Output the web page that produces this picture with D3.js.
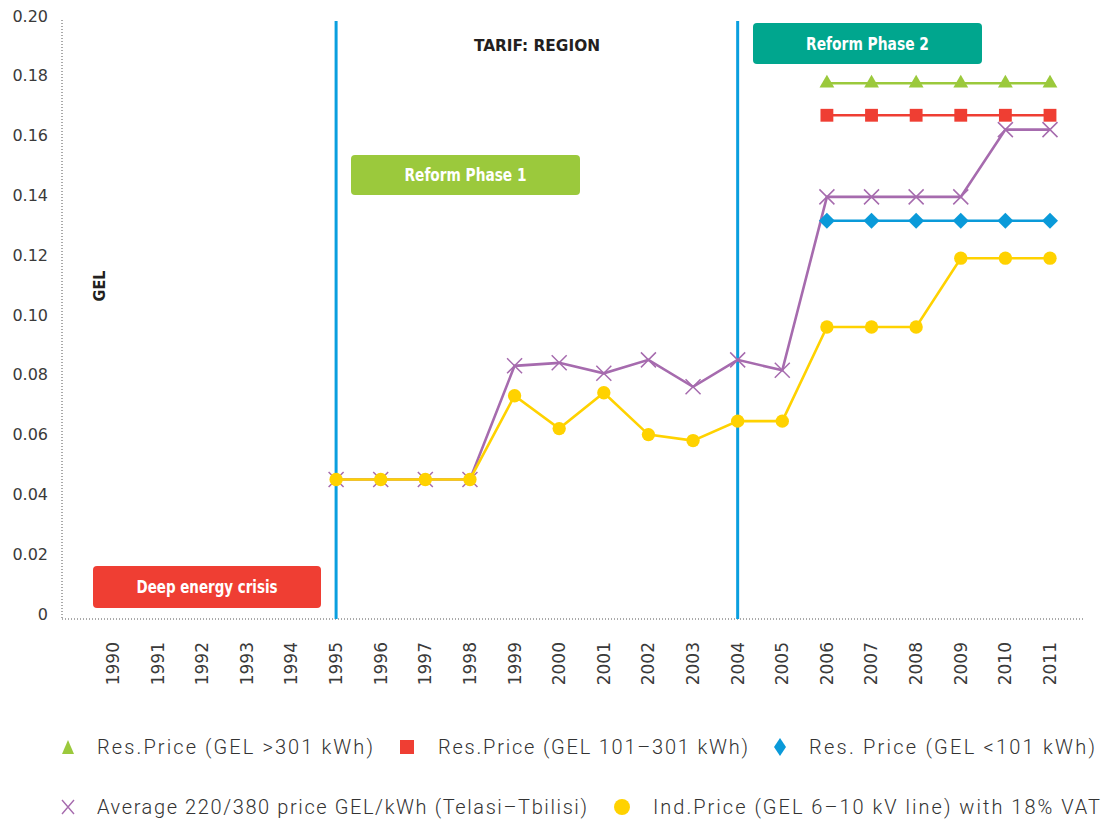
<!DOCTYPE html>
<html>
<head>
<meta charset="utf-8">
<script src="https://cdn.jsdelivr.net/npm/d3@7"></script>
<style>
  body { margin: 0; background: #fff; }
  svg { display: block; }
</style>
</head>
<body>
<svg id="chart" width="1106" height="819"></svg>
<script>
// years on the x axis
const years = d3.range(1990, 2012);
const yTicks = [0, 0.02, 0.04, 0.06, 0.08, 0.10, 0.12, 0.14, 0.16, 0.18, 0.20];

// series
const yearsAvg = [1995, 1996, 1997, 1998, 1999, 2000, 2001, 2002, 2003, 2004, 2005, 2006, 2007, 2008, 2009, 2010, 2011];
const avgPrice = [0.045, 0.045, 0.045, 0.045, 0.083, 0.084, 0.0805, 0.085, 0.076, 0.085, 0.0815, 0.1395, 0.1395, 0.1395, 0.1395, 0.162, 0.162];
const indPrice = [0.045, 0.045, 0.045, 0.045, 0.073, 0.062, 0.074, 0.060, 0.058, 0.0645, 0.0645, 0.096, 0.096, 0.096, 0.119, 0.119, 0.119];
const yearsRes = [2006, 2007, 2008, 2009, 2010, 2011];
const resHigh = [0.1775, 0.1775, 0.1775, 0.1775, 0.1775, 0.1775];
const resMid = [0.1668, 0.1668, 0.1668, 0.1668, 0.1668, 0.1668];
const resLow = [0.1315, 0.1315, 0.1315, 0.1315, 0.1315, 0.1315];

const reformYears = [1995, 2004];

const svg = d3.select("#chart");

const x = d3.scalePoint().domain(years).range([113, 1050]);
const y = d3.scaleLinear().domain([0, 0.2]).range([614, 16]);

const left = 62, right = 1084;
const base = y(0) + 5;
const condensed = "'DejaVu Sans Condensed', 'DejaVu Sans', sans-serif";

// dotted frame (left + bottom)
svg.append("line")
  .attr("x1", left).attr("x2", left)
  .attr("y1", y(0.2) + 4).attr("y2", base)
  .attr("stroke", "#555").attr("stroke-width", 1)
  .attr("stroke-dasharray", "1,2");
svg.append("line")
  .attr("x1", left).attr("x2", right)
  .attr("y1", base).attr("y2", base)
  .attr("stroke", "#555").attr("stroke-width", 1)
  .attr("stroke-dasharray", "1,2");

// y axis labels
const yAx = svg.append("g")
  .attr("transform", `translate(48,0)`)
  .call(d3.axisLeft(y).tickValues(yTicks).tickSize(0)
    .tickFormat(d => d === 0 ? "0" : d3.format(".2f")(d)));
yAx.select(".domain").remove();
yAx.selectAll("text")
  .attr("x", 0)
  .style("font-family", "DejaVu Sans")
  .style("font-size", "16px")
  .attr("fill", "#3a3a3a");

// x axis labels, rotated
svg.append("g").selectAll("text")
  .data(years)
  .enter()
  .append("text")
  .attr("transform", d => `translate(${x(d)},642) rotate(-90)`)
  .attr("text-anchor", "end")
  .attr("dy", "0.35em")
  .style("font-family", "DejaVu Sans")
  .style("font-size", "17px")
  .attr("fill", "#3a3a3a")
  .text(d => d);

// reform lines
svg.append("g").selectAll("line")
  .data(reformYears)
  .enter()
  .append("line")
  .attr("x1", d => x(d)).attr("x2", d => x(d))
  .attr("y1", y(0.2) + 5).attr("y2", base)
  .attr("stroke", "#0a9fdf")
  .attr("stroke-width", 3);

// annotation boxes
const boxes = [
  { label: "Deep energy crisis", fill: "#ef3e33", x0: 93, x1: 321, y0: 566, y1: 608, tw: 141 },
  { label: "Reform Phase 1", fill: "#9bc93c", x0: 351, x1: 580, y0: 155, y1: 195, tw: 122 },
  { label: "Reform Phase 2", fill: "#00a68e", x0: 753, x1: 982, y0: 23, y1: 64, tw: 123 }
];
const bx = svg.append("g").selectAll("g").data(boxes).enter().append("g");
bx.append("rect")
  .attr("x", d => d.x0).attr("y", d => d.y0)
  .attr("width", d => d.x1 - d.x0).attr("height", d => d.y1 - d.y0)
  .attr("rx", 4)
  .attr("fill", d => d.fill);
bx.append("text")
  .attr("x", d => (d.x0 + d.x1) / 2 - d.tw / 2)
  .attr("y", d => (d.y0 + d.y1) / 2)
  .attr("dy", "0.36em")
  .attr("textLength", d => d.tw)
  .attr("lengthAdjust", "spacingAndGlyphs")
  .attr("fill", "#fff")
  .style("font-family", condensed)
  .style("font-stretch", "condensed")
  .style("font-weight", "700")
  .style("font-size", "18px")
  .text(d => d.label);

svg.append("text")
  .attr("x", 474).attr("y", 46)
  .attr("dy", "0.36em")
  .attr("textLength", 126)
  .attr("lengthAdjust", "spacingAndGlyphs")
  .attr("fill", "#231f20")
  .style("font-family", condensed)
  .style("font-stretch", "condensed")
  .style("font-weight", "700")
  .style("font-size", "15px")
  .text("TARIF: REGION");

svg.append("text")
  .attr("transform", "translate(99.5,286) rotate(-90)")
  .attr("x", -15.5)
  .attr("dy", "0.36em")
  .attr("textLength", 31)
  .attr("lengthAdjust", "spacingAndGlyphs")
  .attr("fill", "#231f20")
  .style("font-family", condensed)
  .style("font-stretch", "condensed")
  .style("font-weight", "700")
  .style("font-size", "16px")
  .text("GEL");

// series
const colors = {
  high: "#9bc93c", mid: "#ef3e33", low: "#0a9ad9", avg: "#a66bae", ind: "#ffd200"
};
const line = d3.line().x(d => x(d[0])).y(d => y(d[1]));
const zip = (a, b) => a.map((v, i) => [v, b[i]]);

const sym = {
  high: d3.symbol().type(d3.symbolTriangle).size(95),
  mid: d3.symbol().type(d3.symbolSquare).size(165),
  ind: d3.symbol().type(d3.symbolCircle).size(140)
};
const diamondPath = "M0,-8L8,0L0,8L-8,0Z";
const crossPath = "M-7.5,-7.5L7.5,7.5M-7.5,7.5L7.5,-7.5";

function series(pts, key) {
  const g = svg.append("g");
  g.append("path")
    .datum(pts)
    .attr("d", line)
    .attr("fill", "none")
    .attr("stroke", colors[key])
    .attr("stroke-width", 2.6);
  const m = g.selectAll("path.m").data(pts).enter().append("path")
    .attr("class", "m")
    .attr("transform", d => `translate(${x(d[0])},${y(d[1])})`);
  if (key === "avg") {
    m.attr("d", crossPath)
      .attr("fill", "none")
      .attr("stroke", colors[key])
      .attr("stroke-width", 1.5);
  } else if (key === "low") {
    m.attr("d", diamondPath).attr("fill", colors[key]);
  } else {
    m.attr("d", sym[key]()).attr("fill", colors[key]);
  }
}

series(zip(yearsAvg, avgPrice), "avg");
series(zip(yearsAvg, indPrice), "ind");
series(zip(yearsRes, resLow), "low");
series(zip(yearsRes, resMid), "mid");
series(zip(yearsRes, resHigh), "high");

// legend
const legendItems = [
  { key: "high", label: "Res.Price (GEL >301 kWh)", mx: 68, tx: 97, ly: 747, tw: 276 },
  { key: "mid", label: "Res.Price (GEL 101–301 kWh)", mx: 407, tx: 438, ly: 747, tw: 310 },
  { key: "low", label: "Res. Price (GEL <101 kWh)", mx: 780, tx: 809, ly: 747, tw: 286 },
  { key: "avg", label: "Average 220/380 price GEL/kWh (Telasi–Tbilisi)", mx: 68, tx: 97, ly: 807, tw: 490 },
  { key: "ind", label: "Ind.Price (GEL 6–10 kV line) with 18% VAT", mx: 622, tx: 653, ly: 807, tw: 447 }
];
const lg = svg.append("g").selectAll("g").data(legendItems).enter().append("g");
lg.each(function(d) {
  const s = d3.select(this);
  const mk = s.append("path").attr("transform", `translate(${d.mx},${d.ly})`);
  if (d.key === "avg") {
    mk.attr("d", "M-6,-7L6,7M-6,7L6,-7")
      .attr("fill", "none")
      .attr("stroke", colors.avg).attr("stroke-width", 1.4);
  } else if (d.key === "high") {
    mk.attr("d", "M0,-7L6,7L-6,7Z").attr("fill", colors.high);
  } else if (d.key === "low") {
    mk.attr("d", "M0,-9L6,0L0,9L-6,0Z").attr("fill", colors.low);
  } else if (d.key === "mid") {
    mk.attr("d", "M-7,-7H7V7H-7Z").attr("fill", colors.mid);
  } else {
    mk.attr("d", d3.symbol().type(d3.symbolCircle).size(200)()).attr("fill", colors.ind);
  }
  s.append("text")
    .attr("x", d.tx).attr("y", d.ly)
    .attr("dy", "0.35em")
    .attr("textLength", d.tw)
    .attr("lengthAdjust", "spacing")
    .attr("fill", "#333")
    .style("font-family", "Roboto, sans-serif")
    .style("font-weight", "300")
    .style("font-size", "20px")
    .text(d.label);
});
</script>
</body>
</html>
